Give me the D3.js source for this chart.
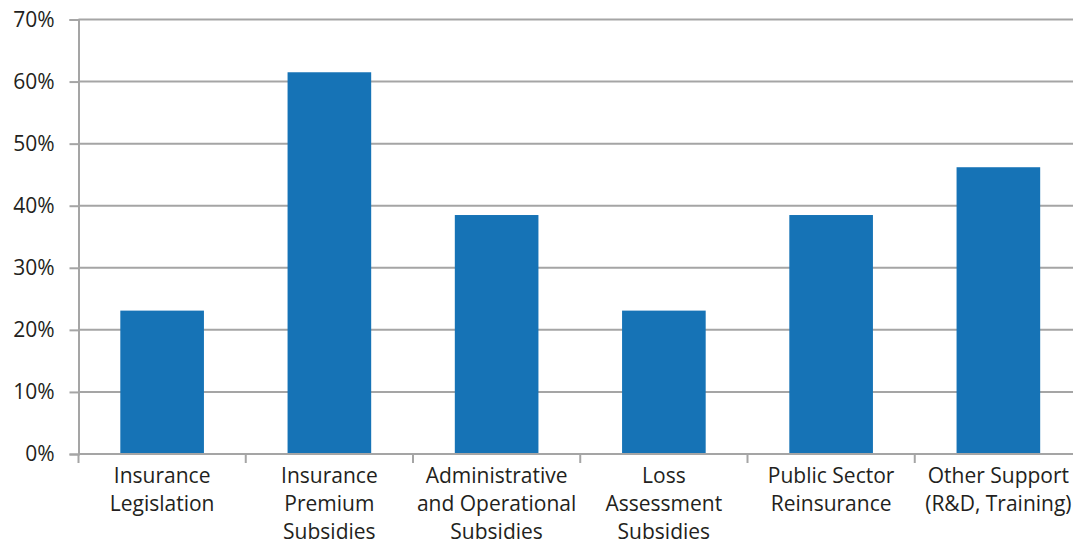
<!DOCTYPE html>
<html>
<head>
<meta charset="utf-8">
<script src="https://cdn.jsdelivr.net/npm/d3@7"></script>
<style>
  html, body { margin: 0; padding: 0; background: #ffffff; }
  svg { display: block; }
  text { font-family: "Open Sans", "Noto Sans", sans-serif; fill: #231f20; }
</style>
</head>
<body>
<svg id="chart" width="1073" height="542"></svg>
<script>
// Support measures, share of schemes offering each one
const categories = [
  ["Insurance", "Legislation"],
  ["Insurance", "Premium", "Subsidies"],
  ["Administrative", "and Operational", "Subsidies"],
  ["Loss", "Assessment", "Subsidies"],
  ["Public Sector", "Reinsurance"],
  ["Other Support", "(R&D, Training)"]
];
const values = [0.231, 0.615, 0.385, 0.231, 0.385, 0.462];
const yTicks = [0, 0.1, 0.2, 0.3, 0.4, 0.5, 0.6, 0.7];

const svg = d3.select("#chart");
const plotLeft = 78.5, plotRight = 1082, plotTop = 19.5, plotBottom = 454;
const keys = categories.map((d, i) => i);

const x = d3.scaleBand()
  .domain(keys)
  .range([plotLeft, plotRight])
  .paddingInner(0.5)
  .paddingOuter(0.25);

const y = d3.scaleLinear()
  .domain([0, 0.7])
  .range([plotBottom, plotTop]);

const gridColor = "#a5a5a5";
const fontSize = 21;

// horizontal gridlines
svg.append("g")
  .selectAll("line")
  .data(yTicks.filter(t => t > 0))
  .join("line")
  .attr("x1", plotLeft).attr("x2", plotRight)
  .attr("y1", d => y(d)).attr("y2", d => y(d))
  .attr("stroke", gridColor)
  .attr("stroke-width", 2);

// bars
svg.append("g")
  .selectAll("rect")
  .data(values)
  .join("rect")
  .attr("x", (d, i) => x(i))
  .attr("width", x.bandwidth())
  .attr("y", d => y(d))
  .attr("height", d => y(0) - y(d))
  .attr("fill", "#1673b6");

// y axis
const yAxis = svg.append("g")
  .attr("transform", `translate(${plotLeft},0)`)
  .call(d3.axisLeft(y)
    .tickValues(yTicks)
    .tickSize(9)
    .tickPadding(15)
    .tickFormat(d3.format(".0%")));
yAxis.select(".domain").attr("stroke", gridColor).attr("stroke-width", 2);
yAxis.selectAll(".tick line").attr("stroke", gridColor).attr("stroke-width", 2);
yAxis.selectAll(".tick text")
  .attr("font-size", fontSize)
  .attr("font-family", "Open Sans, Noto Sans, sans-serif")
  .attr("fill", "#231f20");

// x axis baseline and category boundary ticks
const step = x.step();
const bounds = keys.map(i => x(i) + x.bandwidth() / 2 - step / 2);
bounds.push(x(keys.length - 1) + x.bandwidth() / 2 + step / 2);

svg.append("line")
  .attr("x1", plotLeft).attr("x2", plotRight)
  .attr("y1", y(0)).attr("y2", y(0))
  .attr("stroke", gridColor)
  .attr("stroke-width", 2);

svg.append("g")
  .selectAll("line")
  .data(bounds)
  .join("line")
  .attr("x1", d => d).attr("x2", d => d)
  .attr("y1", y(0)).attr("y2", y(0) + 9)
  .attr("stroke", gridColor)
  .attr("stroke-width", 2);

// category labels
const labels = svg.append("g")
  .selectAll("text")
  .data(categories)
  .join("text")
  .attr("text-anchor", "middle")
  .attr("font-size", fontSize)
  .attr("x", (d, i) => x(i) + x.bandwidth() / 2)
  .attr("y", 483);
labels.selectAll("tspan")
  .data(d => d)
  .join("tspan")
  .attr("x", function () { return d3.select(this.parentNode).attr("x"); })
  .attr("dy", (d, i) => i === 0 ? 0 : 27.8)
  .text(d => d);
</script>
</body>
</html>
